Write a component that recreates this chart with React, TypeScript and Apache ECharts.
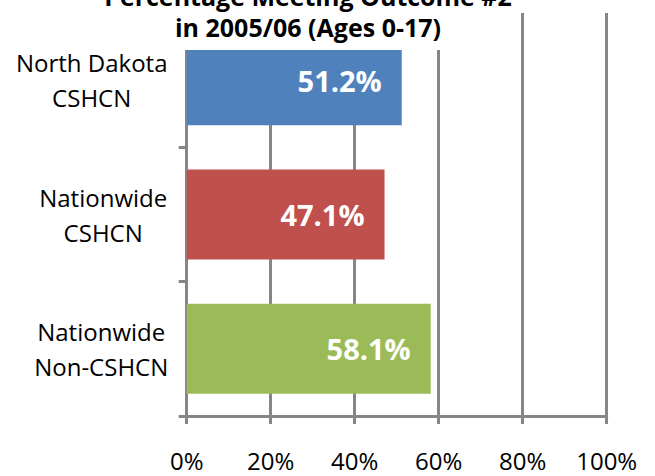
import React, { useEffect, useRef } from "react";
import * as echarts from "echarts";

const titleLines = ["Percentage Meeting Outcome #2", "in 2005/06 (Ages 0-17)"];
const categories = ["North Dakota\nCSHCN", "Nationwide\nCSHCN", "Nationwide\nNon-CSHCN"];
const values = [51.2, 47.1, 58.1];
const barColors = ["#4F81BD", "#C0504D", "#9BBB59"];
const xTicks = [0, 20, 40, 60, 80, 100];

const FONT = "'Open Sans', 'Noto Sans', sans-serif";
const GRAY = "#868686";

export default function App() {
  const ref = useRef<HTMLDivElement>(null);
  useEffect(() => {
    if (!ref.current) return;
    const chart = echarts.init(ref.current, undefined, { renderer: "svg" });
    const labelWidths = [152, 129, 133];
    const rich: Record<string, any> = {};
    labelWidths.forEach((w, i) => {
      rich["c" + i] = {
        width: w,
        align: "center",
        fontSize: 24,
        lineHeight: 35,
        fontFamily: FONT,
        color: "#000",
      };
    });
    chart.setOption({
      animation: false,
      backgroundColor: "#fff",
      title: {
        text: titleLines.join("\n"),
        left: 306,
        top: -20,
        textAlign: "center",
        padding: [0, 2, 8, 2],
        backgroundColor: "#fff",
        textStyle: {
          fontFamily: FONT,
          fontWeight: "bold",
          fontSize: 25,
          lineHeight: 31,
          color: "#000",
        },
      },
      grid: { left: 186.7, right: 48.3, top: 13, bottom: 60, containLabel: false },
      xAxis: {
        type: "value",
        min: xTicks[0],
        max: xTicks[xTicks.length - 1],
        interval: 20,
        axisLine: { show: true, lineStyle: { color: GRAY, width: 3 } },
        axisTick: { show: true, length: 8, lineStyle: { color: GRAY, width: 3 } },
        splitLine: { show: true, lineStyle: { color: GRAY, width: 3 } },
        axisLabel: {
          formatter: "{value}%",
          fontFamily: FONT,
          fontSize: 24,
          lineHeight: 24,
          color: "#000",
          margin: 32,
        },
      },
      yAxis: {
        type: "category",
        inverse: true,
        data: categories,
        axisLine: { show: true, lineStyle: { color: GRAY, width: 3 } },
        axisTick: { show: true, length: 8, lineStyle: { color: GRAY, width: 3 } },
        splitLine: { show: false },
        axisLabel: {
          margin: 19,
          formatter: (v: string, i: number) =>
            v
              .split("\n")
              .map((l) => `{c${i}|${l}}`)
              .join("\n"),
          rich,
        },
      },
      series: [
        {
          type: "bar",
          data: values.map((v, i) => ({ value: v, itemStyle: { color: barColors[i] } })),
          barCategoryGap: "33%",
          label: {
            show: true,
            position: "insideRight",
            distance: 20,
            formatter: (p: any) => Number(p.value).toFixed(1) + "%",
            color: "#fff",
            fontFamily: FONT,
            fontWeight: "bold",
            fontSize: 29,
          },
        },
      ],
    });
    return () => chart.dispose();
  }, []);
  return (
    <div
      ref={ref}
      style={{ position: "fixed", left: 0, top: 0, width: 655, height: 476 }}
    />
  );
}
